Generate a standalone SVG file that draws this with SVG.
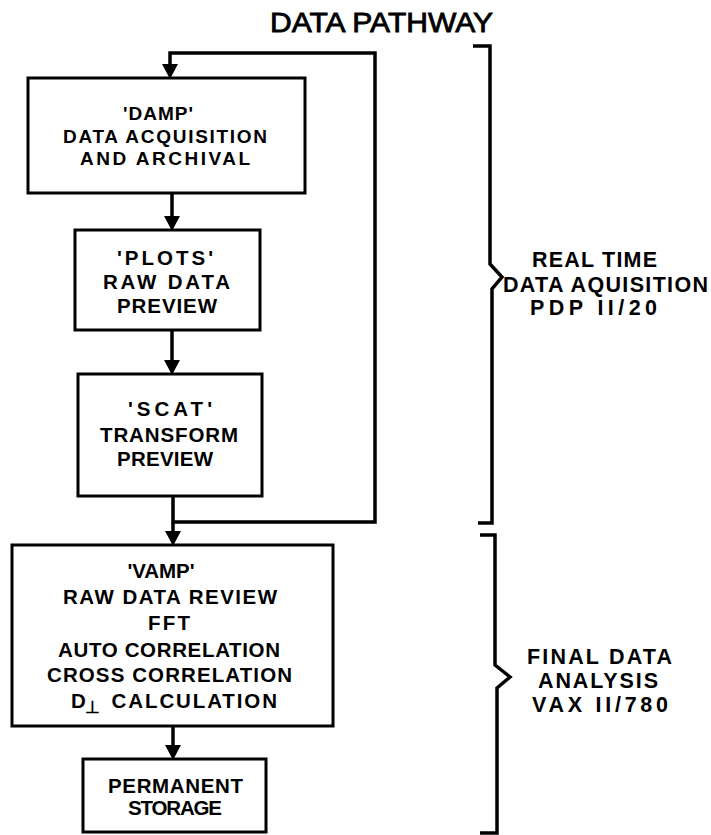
<svg xmlns="http://www.w3.org/2000/svg" width="711" height="835" viewBox="0 0 711 835">
<defs>
<style>
.box{fill:#fff;stroke:#000;stroke-width:3}
.t{font-family:"Liberation Sans",Arial,sans-serif;font-weight:bold;font-size:20.5px;fill:#000;text-anchor:middle}
.r{font-family:"Liberation Sans",Arial,sans-serif;font-weight:bold;font-size:21.5px;fill:#000;text-anchor:middle}
.ln{fill:none;stroke:#000;stroke-width:3.5}
.ah{fill:#000}
</style>
</defs>
<rect width="711" height="835" fill="#fff"/>
<text x="381.5" y="32" class="r" style="font-size:27px;font-weight:normal;stroke:#000;stroke-width:0.8" textLength="223" lengthAdjust="spacingAndGlyphs">DATA PATHWAY</text>

<g id="connectors">
<path class="ln" d="M173,496 V522 H375 V53 H170 V66"/>
<polygon class="ah" points="162,64 178,64 170,79"/>
<path class="ln" d="M172,193 V218"/>
<polygon class="ah" points="164,216 180,216 172,231"/>
<path class="ln" d="M172,330 V362"/>
<polygon class="ah" points="164,360 180,360 172,375"/>
<path class="ln" d="M173,522 V533"/>
<polygon class="ah" points="165,531 181,531 173,546"/>
<path class="ln" d="M173,726 V747"/>
<polygon class="ah" points="165,745 181,745 173,760"/>
</g>

<g id="damp">
<rect class="box" x="28" y="78" width="277" height="115"/>
<text class="t" x="158" y="120" textLength="70" style="font-size:19px">'DAMP'</text>
<text class="t" x="165" y="143" textLength="204" style="font-size:19px">DATA ACQUISITION</text>
<text class="t" x="165" y="165" textLength="170" style="font-size:19px">AND ARCHIVAL</text>
</g>

<g id="plots">
<rect class="box" x="75" y="230" width="185" height="100"/>
<text class="t" x="165" y="265" textLength="96">'PLOTS'</text>
<text class="t" x="166.5" y="289" textLength="127">RAW DATA</text>
<text class="t" x="167" y="313" textLength="100">PREVIEW</text>
</g>

<g id="scat">
<rect class="box" x="78" y="374" width="184" height="122"/>
<text class="t" x="170" y="416" textLength="84">'SCAT'</text>
<text class="t" x="169" y="442" textLength="138">TRANSFORM</text>
<text class="t" x="165" y="466" textLength="96">PREVIEW</text>
</g>

<g id="vamp">
<rect class="box" x="12" y="545" width="321" height="181"/>
<text class="t" x="161" y="578" textLength="67">'VAMP'</text>
<text class="t" x="170" y="604" textLength="214">RAW DATA REVIEW</text>
<text class="t" x="169" y="630" textLength="42">FFT</text>
<text class="t" x="169" y="657" textLength="222">AUTO CORRELATION</text>
<text class="t" x="169.5" y="682" textLength="245">CROSS CORRELATION</text>
<text class="t" y="708" style="text-anchor:start"><tspan x="71">D</tspan><tspan x="85" dy="5" style="font-size:17px">⊥</tspan><tspan x="104" dy="-5" textLength="173"> CALCULATION</tspan></text>
</g>

<g id="storage">
<rect class="box" x="83" y="759" width="183" height="73"/>
<text class="t" x="175.5" y="793" textLength="135">PERMANENT</text>
<text class="t" x="175" y="815" textLength="94">STORAGE</text>
</g>

<g id="bracket-realtime">
<path class="ln" d="M473,46 H490 V264 L502,277 L492,289 V523 H478"/>
<text class="r" x="594.5" y="267" textLength="125">REAL TIME</text>
<text class="r" x="605.5" y="292" textLength="205">DATA AQUISITION</text>
<text class="r" x="593.5" y="315" textLength="127">PDP II/20</text>
</g>

<g id="bracket-final">
<path class="ln" d="M480,535 H495 V665 L510,677 L497,688 V833 H480"/>
<text class="r" x="599.5" y="664" textLength="145">FINAL DATA</text>
<text class="r" x="598" y="688" textLength="120">ANALYSIS</text>
<text class="r" x="600" y="712" textLength="136">VAX II/780</text>
</g>
</svg>
